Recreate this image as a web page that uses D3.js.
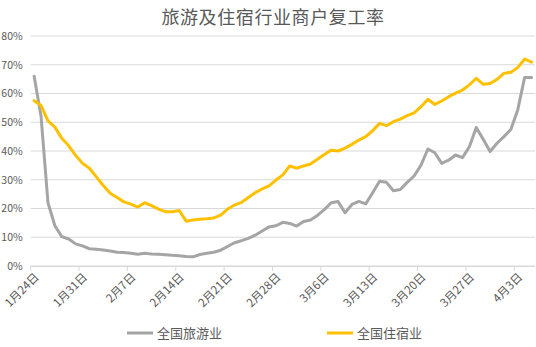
<!DOCTYPE html>
<html><head><meta charset="utf-8">
<script src="https://cdn.jsdelivr.net/npm/d3@7"></script>
<style>
body{margin:0;background:#fff;}
text{font-family:"Noto Sans CJK SC","Noto Sans",sans-serif;fill:#595959;}
</style></head>
<body><svg id="c" width="536" height="347"></svg>
<script>
const title = "旅游及住宿行业商户复工率";
const seriesNames = ["全国旅游业", "全国住宿业"];
const dates = ["1月24日","1月25日","1月26日","1月27日","1月28日","1月29日","1月30日","1月31日",
"2月1日","2月2日","2月3日","2月4日","2月5日","2月6日","2月7日","2月8日","2月9日","2月10日","2月11日","2月12日","2月13日","2月14日","2月15日","2月16日","2月17日","2月18日","2月19日","2月20日","2月21日","2月22日","2月23日","2月24日","2月25日","2月26日","2月27日","2月28日","2月29日",
"3月1日","3月2日","3月3日","3月4日","3月5日","3月6日","3月7日","3月8日","3月9日","3月10日","3月11日","3月12日","3月13日","3月14日","3月15日","3月16日","3月17日","3月18日","3月19日","3月20日","3月21日","3月22日","3月23日","3月24日","3月25日","3月26日","3月27日","3月28日","3月29日","3月30日","3月31日",
"4月1日","4月2日","4月3日","4月4日","4月5日"];
const tickLabels = ["1月24日","1月31日","2月7日","2月14日","2月21日","2月28日","3月6日","3月13日","3月20日","3月27日","4月3日"];
const yTicks = [0,10,20,30,40,50,60,70,80];
const tourism = [66,52,22,14,10.2,9.4,7.7,7,6,5.8,5.6,5.2,4.8,4.7,4.4,4.1,4.4,4.2,4.1,3.9,3.7,3.6,3.3,3.2,4.0,4.4,4.8,5.5,6.8,8.1,8.8,9.6,10.7,12.2,13.6,14,15.2,14.8,13.9,15.5,16,17.6,19.6,22,22.4,18.5,21.4,22.5,21.6,25.5,29.5,29.1,26.2,26.6,29.1,31.3,35.1,40.7,39.4,35.7,36.8,38.6,37.7,41.5,48.2,44.1,39.8,42.7,45,47.5,54.3,65.6,65.6];
const lodging = [57.5,55.8,50.5,48.3,44.4,41.8,38.5,35.7,34,31,28,25.3,23.8,22.3,21.5,20.5,22,21,19.8,18.9,18.9,19.3,15.6,16,16.3,16.4,16.7,17.7,19.8,21.2,22.1,23.8,25.5,26.8,27.9,29.9,31.7,34.8,34,34.8,35.5,37.1,38.8,40.3,40,41,42.3,43.8,45,47.1,49.6,48.8,50.2,51.1,52.3,53.3,55.4,58,56.2,57.4,58.9,60.1,61.2,63,65.3,63.2,63.5,64.9,67,67.4,69,72,70.9];
const colors = ["#A5A5A5","#FFC000"];

const svg = d3.select("#c");
const mLeft = 30.7, mRight = 535, mTop = 36, mBottom = 266;
const x = d3.scaleBand().domain(dates).range([mLeft, mRight]).padding(0);
const y = d3.scaleLinear().domain([0,80]).range([mBottom, mTop]);

// title
svg.append("text").attr("x", 273).attr("y", 23.5).attr("text-anchor","middle")
  .style("font-size","18px").style("letter-spacing","0.6px").text(title);

// grid
svg.append("g").selectAll("line").data(yTicks).join("line")
  .attr("x1", mLeft).attr("x2", mRight).attr("y1", d=>y(d)).attr("y2", d=>y(d))
  .attr("stroke","#d9d9d9").attr("stroke-width",1);

// y axis labels
const yAxis = d3.axisLeft(y).tickValues(yTicks).tickFormat(d=>d+"%").tickSize(0).tickPadding(8);
const gy = svg.append("g").attr("transform",`translate(${mLeft},0)`).call(yAxis);
gy.select(".domain").remove();
gy.selectAll("text").style("font-size","10.5px").style("fill","#595959").style("font-family",'"Noto Sans CJK SC",sans-serif');

// x axis
const xAxis = d3.axisBottom(x).tickValues(tickLabels).tickSize(5).tickPadding(4).tickSizeOuter(0);
const gx = svg.append("g").attr("transform",`translate(0,${mBottom})`).call(xAxis);
gx.select(".domain").attr("stroke","#d9d9d9").attr("d",`M${mLeft},0.5H${mRight}`);
gx.selectAll(".tick").attr("transform", d=>`translate(${x(d)},0)`);
gx.selectAll(".tick line").attr("stroke","#d9d9d9");
gx.selectAll(".tick text")
  .style("font-size","11.5px").style("fill","#595959").style("font-family",'"Noto Sans CJK SC",sans-serif')
  .attr("text-anchor","end").attr("dy","0.35em")
  .attr("transform","translate(6,9) rotate(-45)").attr("y",0).attr("x",0);

// lines
const line = d3.line().x((d,i)=>x(dates[i]) + x.bandwidth()/2).y(d=>y(d)).curve(d3.curveLinear);
[tourism, lodging].forEach((s,k)=>{
  svg.append("path").datum(s).attr("d", line).attr("fill","none")
    .attr("stroke", colors[k]).attr("stroke-width", 3).attr("stroke-linejoin","round").attr("stroke-linecap","round");
});

// legend
const legX = [127, 327];
seriesNames.forEach((n,k)=>{
  const g = svg.append("g").attr("transform",`translate(${legX[k]},333)`);
  g.append("line").attr("x1",0).attr("x2",26).attr("y1",0).attr("y2",0).attr("stroke",colors[k]).attr("stroke-width",3);
  g.append("text").attr("x",30).attr("y",0).attr("dy","0.35em").style("font-size","13px").text(n);
});
</script></body></html>
